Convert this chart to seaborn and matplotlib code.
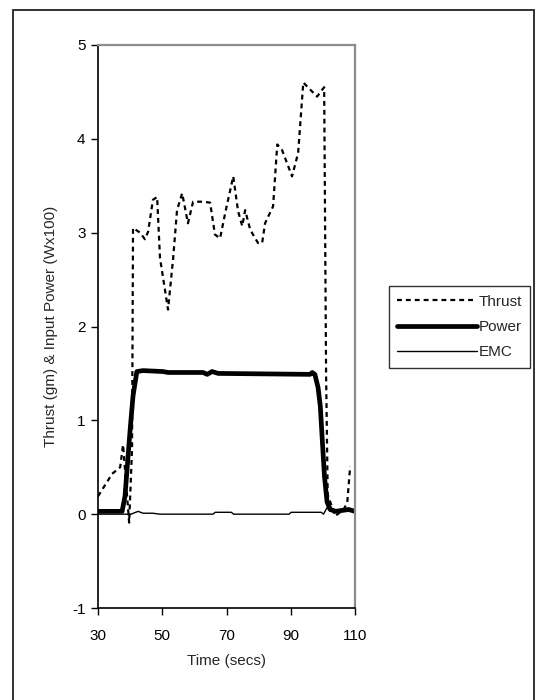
import matplotlib
matplotlib.use("Agg")
import matplotlib.pyplot as plt
import seaborn as sns
import numpy as np
from matplotlib.patches import Rectangle

sns.set_style("white")
plt.rcParams['font.family'] = ['Liberation Sans', 'DejaVu Sans']

# Data
thrust_t = [30.0, 34.4, 36.9, 37.8, 39.7, 40.6, 40.9, 43.1, 44.6, 45.6, 47.1, 48.4, 49.3,
            51.8, 53.4, 54.6, 56.2, 58.0, 59.6, 62.7, 64.9, 66.4, 68.0, 69.6, 72.1,
            73.6, 74.9, 75.8, 77.4, 79.8, 81.1, 82.0, 84.5, 85.8, 87.3, 90.4, 92.3,
            93.9, 98.2, 99.5, 100.4, 101.0, 101.5, 103.8, 106.5, 107.6, 108.5]
thrust_v = [0.19, 0.43, 0.50, 0.74, -0.09, 0.70, 3.05, 3.00, 2.93, 3.01, 3.35, 3.38, 2.73,
            2.18, 2.73, 3.24, 3.42, 3.10, 3.33, 3.33, 3.32, 2.98, 2.94, 3.21, 3.60,
            3.23, 3.07, 3.24, 3.03, 2.89, 2.89, 3.10, 3.28, 3.94, 3.88, 3.60, 3.85,
            4.60, 4.45, 4.51, 4.55, 1.50, 0.21, -0.02, 0.05, 0.13, 0.51]

power_t = [30.0, 37.5, 38.4, 40.0, 40.9, 42.1, 44.0, 50.2, 51.8, 62.7, 64.0, 65.5, 67.4,
           96.0, 96.7, 97.5, 98.5, 99.2, 99.8, 100.5, 101.3, 102.3, 104.0, 108.0, 110.0]
power_v = [0.03, 0.03, 0.19, 0.90, 1.26, 1.52, 1.53, 1.52, 1.51, 1.51, 1.49, 1.52, 1.50,
           1.49, 1.51, 1.49, 1.35, 1.15, 0.80, 0.40, 0.13, 0.05, 0.03, 0.05, 0.03]

emc_t = [30.0, 39.0, 39.7, 41.0, 42.5, 44.0, 47.0, 49.3, 65.8, 66.5, 71.5, 72.2, 89.5,
         90.1, 99.5, 100.2, 101.3, 102.3, 110.0]
emc_v = [0.00, 0.00, -0.01, 0.01, 0.03, 0.01, 0.01, 0.00, 0.00, 0.02, 0.02, 0.00, 0.00,
         0.02, 0.02, 0.00, 0.07, 0.03, 0.03]

xticks = [30, 50, 70, 90, 110]
yticks = [-1, 0, 1, 2, 3, 4, 5]

W, H = 536, 700
fig = plt.figure(figsize=(W / 100, H / 100), dpi=100)
ax = fig.add_axes([98 / W, 1 - 608 / H, (355 - 98) / W, (608 - 45) / H])

sns.lineplot(x=thrust_t, y=thrust_v, ax=ax, color="black", lw=1.6,
             estimator=None, sort=False, label="Thrust", dashes=False)
ax.lines[-1].set_dashes([2.2, 1.8])
sns.lineplot(x=power_t, y=power_v, ax=ax, color="black", lw=3.4,
             estimator=None, sort=False, label="Power")
sns.lineplot(x=emc_t, y=emc_v, ax=ax, color="black", lw=1.0,
             estimator=None, sort=False, label="EMC")

ax.set_xlim(30, 110)
ax.set_ylim(-1, 5)
ax.set_xticks(xticks)
ax.set_yticks(yticks)
ax.set_xticklabels([str(t) for t in xticks])
ax.set_yticklabels([str(t) for t in yticks])
ax.tick_params(axis='both', direction='out', length=5, width=1, colors='black',
               labelsize=11, pad=4, left=True, bottom=True)
ax.tick_params(axis='x', pad=10)
ax.set_xlabel("Time (secs)", fontsize=11, labelpad=8)
ax.set_ylabel("Thrust (gm) & Input Power (Wx100)", fontsize=11, labelpad=10)

for s in ['left', 'bottom']:
    ax.spines[s].set_color('black')
    ax.spines[s].set_linewidth(1.2)
for s in ['top', 'right']:
    ax.spines[s].set_color('#8c8c8c')
    ax.spines[s].set_linewidth(1.6)

leg = ax.legend(loc='center', bbox_to_anchor=((391 + 528) / 2 / W, 1 - (285 + 369) / 2 / H),
                bbox_transform=fig.transFigure, fontsize=11, frameon=True, fancybox=False,
                shadow=False, handlelength=5.2, handletextpad=0.1, borderpad=0.55,
                labelspacing=0.75, borderaxespad=0)
leg.get_frame().set_edgecolor('black')
leg.get_frame().set_linewidth(1.0)

fig.patches.append(Rectangle((13 / W, -5 / H), (534 - 13) / W, (700 - 10 + 5) / H,
                             transform=fig.transFigure, fill=False, edgecolor='#222222',
                             lw=1.3))

fig.savefig("out.png", dpi=100)
